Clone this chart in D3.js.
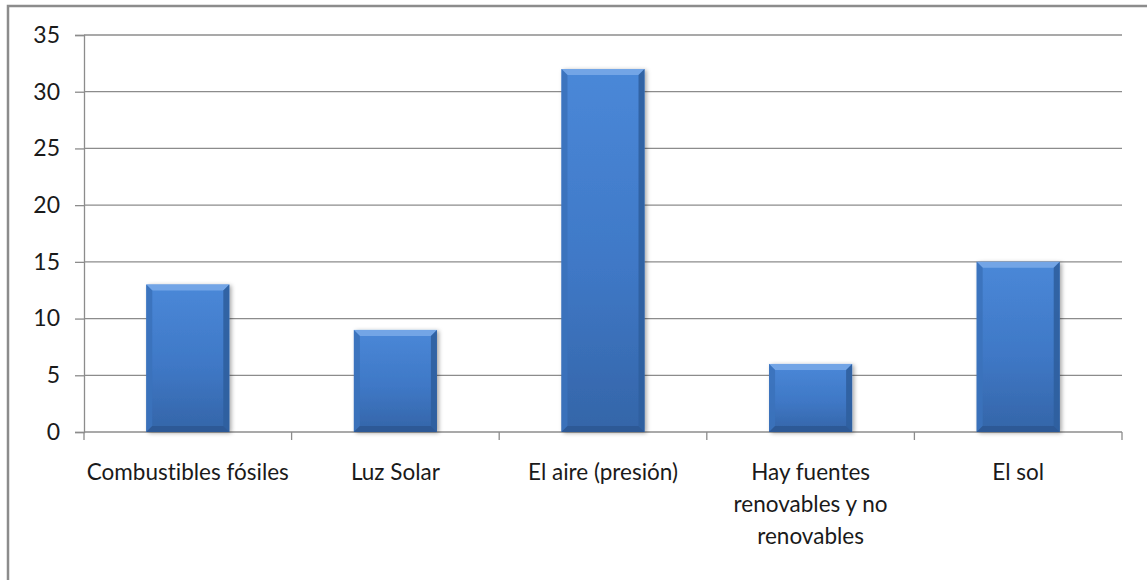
<!DOCTYPE html>
<html>
<head>
<meta charset="utf-8">
<script src="https://cdn.jsdelivr.net/npm/d3@7"></script>
<style>
  html, body { margin: 0; padding: 0; background: #fff; }
  svg { display: block; }
  text { font-family: Lato, "Open Sans", sans-serif; fill: #1a1a1a; font-variant-ligatures: none; }
</style>
</head>
<body>
<svg id="chart" width="1147" height="580"></svg>
<script>
// Categories and counts
const categories = [
  "Combustibles fósiles",
  "Luz Solar",
  "El aire (presión)",
  "Hay fuentes renovables y no renovables",
  "El sol"
];
const values = [13, 9, 32, 6, 15];
// Wrapped category labels
const labelLines = [
  ["Combustibles fósiles"],
  ["Luz Solar"],
  ["El aire (presión)"],
  ["Hay fuentes", "renovables y no", "renovables"],
  ["El sol"]
];
const yTicks = [0, 5, 10, 15, 20, 25, 30, 35];

const W = 1147, H = 580;
const margin = { left: 84, right: 25, top: 35, bottom: 148 };
const svg = d3.select("#chart");

// Outer chart frame (runs off the right and bottom edges)
svg.append("rect")
  .attr("x", 8).attr("y", 6)
  .attr("width", W + 20).attr("height", H + 20)
  .attr("fill", "#fff")
  .attr("stroke", "#8c8c8c")
  .attr("stroke-width", 2.5);

const x = d3.scaleBand()
  .domain(categories)
  .range([margin.left, W - margin.right])
  .paddingInner(0.6)
  .paddingOuter(0.3);

const y = d3.scaleLinear()
  .domain([0, 35])
  .range([H - margin.bottom, margin.top]);

const defs = svg.append("defs");
const grad = defs.append("linearGradient")
  .attr("id", "barFill").attr("x1", 0).attr("y1", 0).attr("x2", 0).attr("y2", 1);
grad.append("stop").attr("offset", "0%").attr("stop-color", "#4a88d8");
grad.append("stop").attr("offset", "55%").attr("stop-color", "#3f78c6");
grad.append("stop").attr("offset", "100%").attr("stop-color", "#3465a8");

const shadow = defs.append("filter").attr("id", "barShadow")
  .attr("x", "-20%").attr("y", "-10%").attr("width", "140%").attr("height", "120%");
shadow.append("feDropShadow")
  .attr("dx", 2).attr("dy", 1).attr("stdDeviation", 2)
  .attr("flood-color", "#000").attr("flood-opacity", 0.35);

// Horizontal gridlines
const grid = svg.append("g");
grid.selectAll("line").data(yTicks.filter(d => d > 0)).join("line")
  .attr("x1", margin.left).attr("x2", W - margin.right)
  .attr("y1", d => y(d)).attr("y2", d => y(d))
  .attr("stroke", "#8c8c8c").attr("stroke-width", 1.3);

// Y axis
const yAxis = svg.append("g")
  .attr("transform", `translate(${margin.left},0)`)
  .call(d3.axisLeft(y).tickValues(yTicks).tickSize(9).tickPadding(15));
yAxis.select(".domain").attr("stroke", "#8c8c8c").attr("stroke-width", 1.3);
yAxis.selectAll(".tick line").attr("stroke", "#8c8c8c").attr("stroke-width", 1.3);
yAxis.selectAll(".tick text")
  .style("font-family", "Lato, sans-serif")
  .style("font-size", "23px").attr("fill", "#1a1a1a");

// X axis baseline and category separators
const xAxisG = svg.append("g");
xAxisG.append("line")
  .attr("x1", margin.left).attr("x2", W - margin.right)
  .attr("y1", y(0)).attr("y2", y(0))
  .attr("stroke", "#8c8c8c").attr("stroke-width", 1.3);
const [r0, r1] = x.range();
const bounds = d3.range(categories.length + 1).map(i => r0 + i * (r1 - r0) / categories.length);
xAxisG.selectAll("line.sep").data(bounds).join("line")
  .attr("class", "sep")
  .attr("x1", d => d).attr("x2", d => d)
  .attr("y1", y(0)).attr("y2", y(0) + 8)
  .attr("stroke", "#8c8c8c").attr("stroke-width", 1.3);

// Bars with bevelled edges
const bev = 6;
const bars = svg.append("g").selectAll("g.bar")
  .data(categories.map((c, i) => ({ c, v: values[i] })))
  .join("g").attr("class", "bar");

bars.append("rect")
  .attr("x", d => x(d.c)).attr("y", d => y(d.v))
  .attr("width", x.bandwidth()).attr("height", d => y(0) - y(d.v))
  .attr("fill", "url(#barFill)")
  .attr("filter", "url(#barShadow)");

// top bevel (light)
bars.append("polygon")
  .attr("points", d => {
    const x0 = x(d.c), x1 = x0 + x.bandwidth(), t = y(d.v);
    return [[x0, t], [x1, t], [x1 - bev, t + bev], [x0 + bev, t + bev]].join(" ");
  })
  .attr("fill", "#78a9e8").attr("opacity", 0.9);
// left bevel
bars.append("polygon")
  .attr("points", d => {
    const x0 = x(d.c), t = y(d.v), b = y(0);
    return [[x0, t], [x0 + bev, t + bev], [x0 + bev, b - bev], [x0, b]].join(" ");
  })
  .attr("fill", "#3b72bb").attr("opacity", 0.9);
// right bevel
bars.append("polygon")
  .attr("points", d => {
    const x1 = x(d.c) + x.bandwidth(), t = y(d.v), b = y(0);
    return [[x1, t], [x1 - bev, t + bev], [x1 - bev, b - bev], [x1, b]].join(" ");
  })
  .attr("fill", "#2f5f9f").attr("opacity", 0.9);
// bottom bevel
bars.append("polygon")
  .attr("points", d => {
    const x0 = x(d.c), x1 = x0 + x.bandwidth(), b = y(0);
    return [[x0, b], [x1, b], [x1 - bev, b - bev], [x0 + bev, b - bev]].join(" ");
  })
  .attr("fill", "#2c5894").attr("opacity", 0.9);

// Category labels
const labels = svg.append("g").selectAll("text")
  .data(categories.map((c, i) => ({ c, lines: labelLines[i] })))
  .join("text")
  .attr("text-anchor", "middle")
  .style("font-size", "22.5px");
labels.each(function(d) {
  const t = d3.select(this);
  d.lines.forEach((ln, j) => {
    t.append("tspan")
      .attr("x", x(d.c) + x.bandwidth() / 2)
      .attr("y", y(0) + 48 + j * 32)
      .text(ln);
  });
});
</script>
</body>
</html>
